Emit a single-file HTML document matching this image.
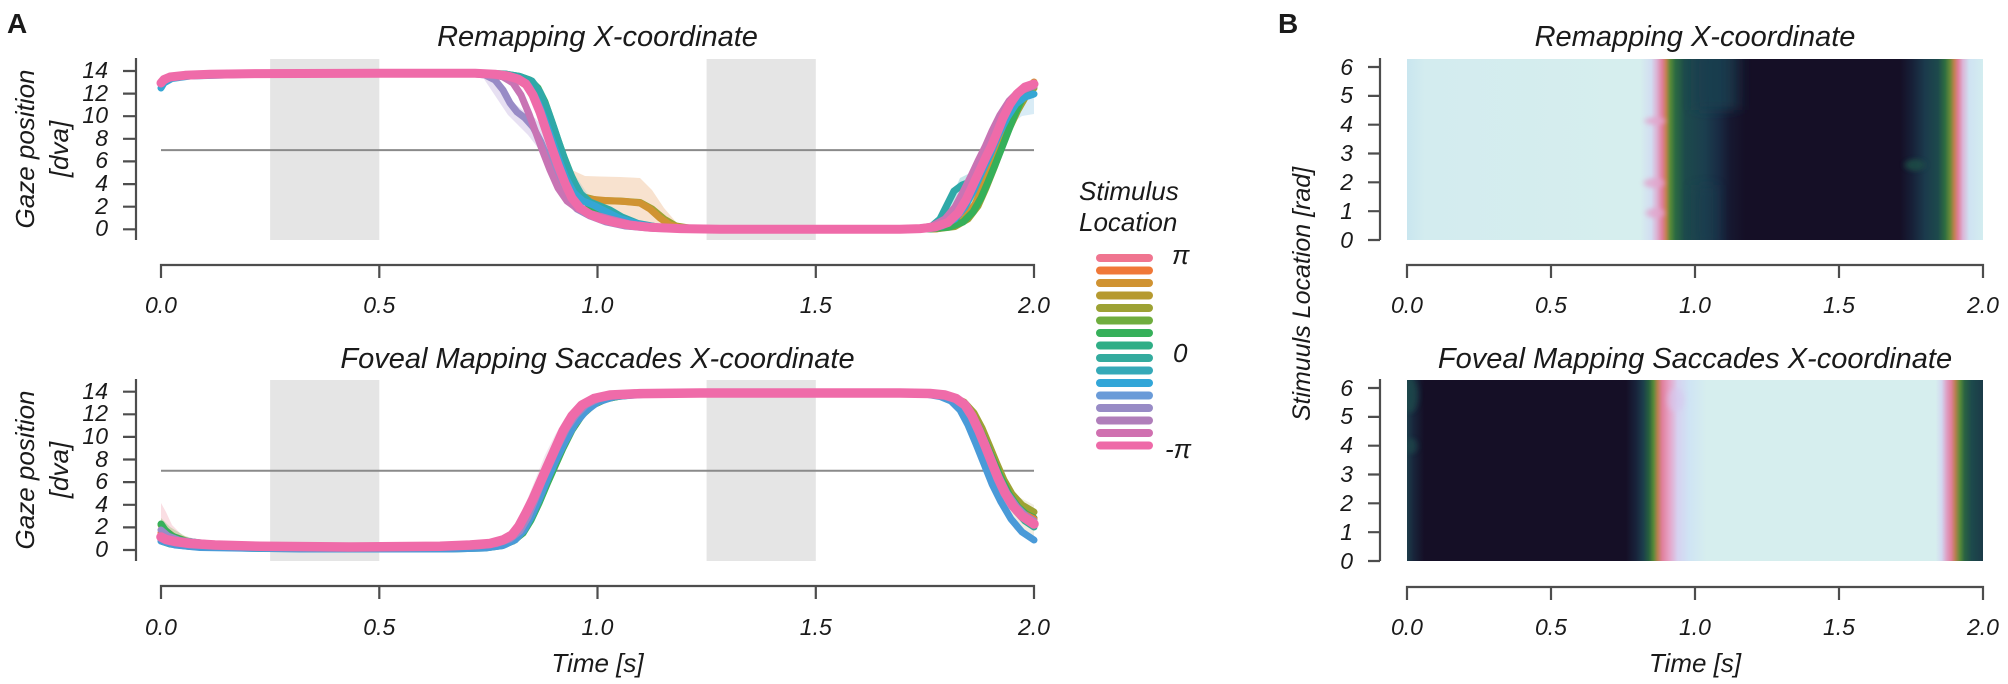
<!DOCTYPE html>
<html>
<head>
<meta charset="utf-8">
<style>
html,body{margin:0;padding:0;background:#fff;}
svg{display:block;}
text{font-family:"Liberation Sans",Arial,sans-serif;fill:#1a1a1a;}
.it{font-style:italic;}
.tk{font-size:23px;font-style:italic;}
.ttl{font-size:29px;font-style:italic;}
.lab{font-size:26px;font-style:italic;}
.ax{stroke:#4d4d4d;stroke-width:2.2;fill:none;}
.ln{fill:none;stroke-linejoin:round;stroke-linecap:round;}
</style>
</head>
<body>
<svg width="2008" height="684" viewBox="0 0 2008 684" xmlns="http://www.w3.org/2000/svg">
<defs>
<linearGradient id="hmTop" gradientUnits="userSpaceOnUse" x1="1407" y1="0" x2="1983" y2="0">
<stop offset="0" stop-color="#c9e6ef"/>
<stop offset="0.031" stop-color="#d3ecef"/>
<stop offset="0.405" stop-color="#d6eeee"/>
<stop offset="0.424" stop-color="#d2ddf1"/>
<stop offset="0.434" stop-color="#dcb0d2"/>
<stop offset="0.443" stop-color="#e07f9b"/>
<stop offset="0.450" stop-color="#c08050"/>
<stop offset="0.457" stop-color="#5a8a38"/>
<stop offset="0.466" stop-color="#2b6a42"/>
<stop offset="0.483" stop-color="#1d4a4c"/>
<stop offset="0.517" stop-color="#1b3e4e"/>
<stop offset="0.540" stop-color="#192c44"/>
<stop offset="0.561" stop-color="#161830"/>
<stop offset="0.587" stop-color="#150f26"/>
<stop offset="0.856" stop-color="#150f26"/>
<stop offset="0.877" stop-color="#172038"/>
<stop offset="0.899" stop-color="#1b3a4c"/>
<stop offset="0.922" stop-color="#1d4a4c"/>
<stop offset="0.934" stop-color="#2e6e40"/>
<stop offset="0.943" stop-color="#6a8a38"/>
<stop offset="0.950" stop-color="#c08050"/>
<stop offset="0.957" stop-color="#e07f9b"/>
<stop offset="0.965" stop-color="#dcb4d6"/>
<stop offset="0.976" stop-color="#cfe2f2"/>
<stop offset="1" stop-color="#d3edf0"/>
</linearGradient>
<linearGradient id="hmBot" gradientUnits="userSpaceOnUse" x1="1407" y1="0" x2="1983" y2="0">
<stop offset="0" stop-color="#1d3d4b"/>
<stop offset="0.012" stop-color="#18243a"/>
<stop offset="0.03" stop-color="#150f26"/>
<stop offset="0.38" stop-color="#150f26"/>
<stop offset="0.397" stop-color="#18223a"/>
<stop offset="0.41" stop-color="#1c3e4c"/>
<stop offset="0.42" stop-color="#27603e"/>
<stop offset="0.428" stop-color="#5a8a38"/>
<stop offset="0.435" stop-color="#b88050"/>
<stop offset="0.443" stop-color="#e07f9b"/>
<stop offset="0.455" stop-color="#e6a2c6"/>
<stop offset="0.47" stop-color="#d6d2f0"/>
<stop offset="0.49" stop-color="#cfe4f4"/>
<stop offset="0.52" stop-color="#d6eeee"/>
<stop offset="0.918" stop-color="#d6eeee"/>
<stop offset="0.928" stop-color="#d2d8f0"/>
<stop offset="0.937" stop-color="#dea0c4"/>
<stop offset="0.945" stop-color="#e07f9b"/>
<stop offset="0.952" stop-color="#b88050"/>
<stop offset="0.96" stop-color="#5a8a38"/>
<stop offset="0.968" stop-color="#2a6442"/>
<stop offset="0.98" stop-color="#1d4a4c"/>
<stop offset="1" stop-color="#1b3a48"/>
</linearGradient>
<linearGradient id="tealExt" gradientUnits="userSpaceOnUse" x1="1690" y1="0" x2="1745" y2="0">
<stop offset="0" stop-color="#1b3e4e" stop-opacity="0"/>
<stop offset="0.25" stop-color="#1b3e4e" stop-opacity="0.9"/>
<stop offset="0.7" stop-color="#1b3e4e" stop-opacity="0.85"/>
<stop offset="1" stop-color="#1b3e4e" stop-opacity="0"/>
</linearGradient>
<filter id="bl" x="-50%" y="-50%" width="200%" height="200%"><feGaussianBlur stdDeviation="6 5"/></filter>
<filter id="bl2" x="-50%" y="-50%" width="200%" height="200%"><feGaussianBlur stdDeviation="3 2"/></filter>
<clipPath id="cTop"><rect x="1407" y="59" width="576" height="181"/></clipPath>
<clipPath id="cBot"><rect x="1407" y="380" width="576" height="181"/></clipPath>
</defs>
<rect width="2008" height="684" fill="#fff"/>

<!-- Panel letters -->
<text x="7" y="33" style="font-size:28px;font-weight:bold;">A</text>
<text x="1278" y="33" style="font-size:28px;font-weight:bold;">B</text>

<!-- ============ PANEL A TOP ============ -->
<text class="ttl" x="597.5" y="46" text-anchor="middle">Remapping X-coordinate</text>
<rect x="270.1" y="59" width="109.2" height="181" fill="#e5e5e5"/>
<rect x="706.6" y="59" width="109.2" height="181" fill="#e5e5e5"/>
<line x1="161" y1="150.1" x2="1034" y2="150.1" stroke="#8a8a8a" stroke-width="2"/>

<!-- bands -->
<path d="M540,105 L550,128 L560,150 L572,170 L585,176 L600,176.5 L620,177 L640,178 L652,190 L664,208 L676,222 L690,228 L720,229.5 L690,229.5 L660,228 L640,222 L615,215 L595,210 L575,200 L560,180 L548,150 L538,120 Z" fill="#e8a060" opacity="0.3"/>
<path d="M480,73 L495,78 L505,92 L515,104 L525,112 L535,118 L545,130 L555,150 L565,175 L575,195 L570,200 L558,185 L548,165 L538,148 L528,135 L518,125 L508,115 L498,100 L488,85 Z" fill="#a890d0" opacity="0.28"/>
<path d="M530,82 L545,100 L556,125 L565,150 L575,175 L585,190 L592,200 L580,205 L568,185 L556,160 L545,130 L535,105 Z" fill="#80c0c8" opacity="0.25"/>
<path d="M935,229 L945,212 L952,196 L960,178 L968,174 L976,166 L984,155 L990,150 L986,170 L978,183 L968,192 L958,200 L948,218 Z" fill="#40b0b8" opacity="0.3"/>
<path d="M1000,120 L1012,100 L1025,88 L1034,86 L1034,114 L1022,116 L1010,125 Z" fill="#80c0e0" opacity="0.3"/>

<!-- lines -->
<path class="ln" stroke="#9da234" stroke-width="7" d="M161,83 L170,77.5 L190,75.3 L260,73.8 L485,73.4 L507,75 L521,80 L531,90 L540,106 L548,128 L556,150 L564,170 L573,187 L584,197 L598,200.5 L620,201 L640,202.5 L652,209 L664,219 L676,226 L695,229 L935,229 L955,226.5 L968,219 L978,206 L986,188 L994,168 L1001,149 L1009,129 L1018,110 L1026,96 L1034,88"/>
<path class="ln" stroke="#d09332" stroke-width="7" d="M161,82 L168,77.5 L185,75.5 L260,73.8 L480,73.4 L500,74.5 L515,78 L527,86 L536,102 L544,122 L552,145 L560,165 L568,182 L577,194 L588,199 L605,200.5 L625,201.5 L640,203 L650,209 L660,218 L670,225 L685,228.5 L710,229.3 L935,229 L952,226 L965,218 L975,204 L983,186 L991,165 L998,146 L1006,126 L1015,106 L1024,91 L1034,82"/>
<path class="ln" stroke="#36b05a" stroke-width="7" d="M161,82 L166,78.5 L178,76 L210,74.5 L260,73.8 L480,73.3 L505,74 L520,76.5 L530,80 L538,88 L545,102 L552,122 L558,140 L564,157 L571,175 L579,192 L588,204 L598,212 L612,219 L628,224 L650,227.5 L690,229 L930,229 L950,227 L963,222 L973,212 L981,198 L988,182 L995,165 L1001,150 L1008,132 L1015,114 L1022,99 L1028,90 L1034,85"/>
<path class="ln" stroke="#2fa9a8" stroke-width="7" d="M161,84 L166,80 L178,76.5 L210,74.6 L260,73.8 L480,73.3 L505,74 L520,76.5 L532,81 L540,92 L547,108 L554,128 L560,146 L566,163 L573,180 L581,194 L590,202 L600,206 L610,210 L622,217 L638,223.5 L660,227.5 L700,229 L915,229 L930,227.5 L940,219 L947,205 L954,191 L962,185 L970,182 L977,174 L984,162 L990,150 L997,134 L1005,116 L1013,101 L1022,91 L1034,86"/>
<path class="ln" stroke="#35a6d4" stroke-width="7" d="M161,88 L164,83 L172,78.5 L190,76 L260,74 L480,73.5 L503,74.5 L518,78 L529,86 L538,102 L545,120 L552,140 L559,160 L566,178 L574,193 L583,201 L593,205 L605,211 L620,218.5 L640,224.5 L665,228 L700,229.2 L925,229 L942,226 L955,219 L965,207 L974,190 L982,172 L990,155 L998,136 L1007,118 L1016,104 L1025,97 L1034,94"/>
<path class="ln" stroke="#988bc6" stroke-width="7" d="M161,83 L170,77.5 L190,75.3 L260,73.8 L470,73.4 L485,75 L495,80 L503,90 L510,103 L517,112 L525,118 L533,127 L541,142 L549,162 L557,182 L566,198 L577,209 L590,216 L606,222 L625,226 L655,228.5 L700,229.3 L920,229 L938,225 L950,216 L960,202 L969,185 L977,168 L984,154 L991,140 L999,123 L1008,106 L1018,93 L1027,87 L1034,85"/>
<path class="ln" stroke="#c874b4" stroke-width="7" d="M161,83 L170,77 L200,74.5 L400,73.3 L470,73.4 L490,74.5 L503,77 L513,83 L521,95 L529,114 L536,133 L543,152 L550,170 L558,188 L567,201 L578,209 L592,214 L610,219 L630,224 L660,227.8 L720,229.2 L915,229 L932,226 L945,219 L955,207 L963,192 L971,176 L978,161 L985,147 L992,131 L1000,115 L1009,101 L1018,92 L1034,86"/>
<path class="ln" stroke="#ef6ba9" stroke-width="9" d="M161,83 L164,79.5 L170,77 L185,75.3 L210,74.3 L260,73.6 L400,73.2 L475,73.3 L495,74.2 L508,76 L518,79 L526,84 L533,95 L540,112 L546,130 L552,148 L558,165 L565,183 L572,198 L580,208 L590,214.5 L600,218.5 L615,222.5 L630,225.2 L650,227.3 L680,228.6 L720,229.2 L900,229.2 L920,228.6 L935,227 L948,222.5 L958,213 L966,200 L973,185 L980,170 L986,157 L991,147 L997,133 L1003,118 L1010,104 L1017,94 L1025,87 L1034,84"/>

<!-- axes A top -->
<path class="ax" d="M136,58 L136,240"/>
<path class="ax" d="M123,229.3 H136 M123,206.7 H136 M123,184.1 H136 M123,161.4 H136 M123,138.8 H136 M123,116.2 H136 M123,93.6 H136 M123,71 H136"/>
<path class="ax" d="M161,278 L161,265 L1034,265 L1034,278 M379.3,265 V278 M597.5,265 V278 M815.8,265 V278"/>
<g class="tk" text-anchor="end">
<text x="108" y="236">0</text><text x="108" y="214">2</text><text x="108" y="191">4</text><text x="108" y="168">6</text>
<text x="108" y="146">8</text><text x="108" y="123">10</text><text x="108" y="101">12</text><text x="108" y="78">14</text>
</g>
<g class="tk" text-anchor="middle">
<text x="161" y="313">0.0</text><text x="379.3" y="313">0.5</text><text x="597.5" y="313">1.0</text><text x="815.8" y="313">1.5</text><text x="1034" y="313">2.0</text>
</g>
<text class="lab" transform="translate(34,149) rotate(-90)" text-anchor="middle">Gaze position</text>
<text class="lab" transform="translate(68,149) rotate(-90)" text-anchor="middle">[dva]</text>

<!-- ============ PANEL A BOTTOM ============ -->
<text class="ttl" x="597.5" y="368" text-anchor="middle">Foveal Mapping Saccades X-coordinate</text>
<rect x="270.1" y="380" width="109.2" height="181" fill="#e5e5e5"/>
<rect x="706.6" y="380" width="109.2" height="181" fill="#e5e5e5"/>
<line x1="161" y1="470.8" x2="1034" y2="470.8" stroke="#8a8a8a" stroke-width="2"/>

<path d="M161,503 L166,512 L172,525 L182,535 L195,541 L195,546 L175,544 L161,542 Z" fill="#f0a0b0" opacity="0.35"/>
<path d="M161,518 L170,527 L185,536 L205,542 L205,546 L180,543 L161,535 Z" fill="#80c060" opacity="0.35"/>
<path d="M500,540 L515,525 L525,505 L535,480 L545,455 L555,435 L565,418 L578,404 L590,398 L600,402 L585,412 L572,428 L562,448 L552,470 L542,495 L530,520 L515,540 Z" fill="#d0a0c0" opacity="0.25"/>
<path d="M955,395 L970,405 L985,430 L1000,465 L1015,495 L1034,505 L1034,540 L1015,530 L1000,505 L985,470 L970,430 L958,405 Z" fill="#c0b080" opacity="0.22"/>

<path class="ln" stroke="#9da234" stroke-width="7" d="M161,525 L166,531 L174,537 L188,541.5 L215,544.8 L265,546.8 L350,548 L450,548 L480,547 L500,545 L513,541 L523,533 L531,520 L539,503 L547,484 L555,466 L563,448 L572,430 L582,415 L593,405 L606,399 L625,395 L660,393.5 L935,393.5 L952,396.5 L964,402 L974,413 L982,428 L990,447 L997,464 L1004,480 L1012,494 L1022,505 L1034,512"/>
<path class="ln" stroke="#36b05a" stroke-width="7" d="M161,524 L165,530 L172,536 L185,541 L210,544.5 L260,546.5 L350,547.8 L450,548 L480,547 L500,545 L513,541 L523,533 L531,520 L539,503 L547,484 L555,466 L563,448 L572,430 L582,415 L593,405 L606,399 L625,395 L660,393.5 L930,393.5 L948,396 L960,401 L970,411 L978,425 L986,443 L994,462 L1001,478 L1009,494 L1018,507 L1026,514 L1034,518"/>
<path class="ln" stroke="#f07838" stroke-width="7" d="M161,533 L170,539 L190,543.5 L260,546.5 L440,547 L480,546 L498,543 L510,537 L519,527 L527,512 L535,494 L543,474 L551,456 L560,437 L569,421 L579,409 L590,401 L605,396 L640,393.5 L935,393.5 L952,397 L963,404 L972,416 L980,432 L988,452 L996,472 L1004,490 L1014,505 L1024,514 L1034,519"/>
<path class="ln" stroke="#2fae96" stroke-width="7" d="M161,541 L170,544 L190,546.5 L260,548.5 L450,549 L485,548 L503,545.5 L515,540 L524,531 L532,517 L540,499 L548,479 L556,461 L565,442 L574,425 L584,412 L595,403 L610,397.5 L640,394 L930,394 L946,396.5 L957,401 L966,409 L974,422 L982,440 L990,460 L998,479 L1006,496 L1016,511 L1025,521 L1034,527"/>
<path class="ln" stroke="#4a9ad8" stroke-width="7" d="M161,541 L175,545 L200,547.5 L300,549 L450,549 L485,548 L503,545.5 L515,540 L524,530 L532,515 L540,497 L548,478 L556,460 L565,442 L575,424 L586,411 L598,402 L615,396.5 L650,394 L925,394 L940,396.5 L951,401 L960,410 L968,425 L976,444 L984,464 L992,484 L1001,502 L1011,519 L1022,532 L1034,540"/>
<path class="ln" stroke="#988bc6" stroke-width="7" d="M161,530 L168,536 L180,540.5 L210,544 L280,546.5 L440,547 L478,546 L497,543.5 L510,539 L520,531 L528,517 L535,500 L542,482 L550,464 L558,446 L567,428 L576,415 L586,405 L598,399 L615,395.5 L650,393.8 L935,393.8 L950,396 L960,401 L969,410 L977,424 L985,442 L992,460 L999,477 L1007,493 L1017,507 L1026,516 L1034,521"/>
<path class="ln" stroke="#ef6ba9" stroke-width="9.5" d="M161,537 L166,539.5 L175,541.5 L190,543.5 L215,545 L260,546.3 L350,547 L440,546.3 L470,545 L490,543.5 L503,540 L512,535 L519,526 L526,513 L533,499 L540,483 L547,467 L555,449 L563,431 L572,416 L582,405 L594,398.5 L610,395 L640,393.6 L700,393 L900,393 L930,393.5 L945,395 L956,398.5 L965,405 L972,416 L979,431 L986,448 L992,463 L998,478 L1005,493 L1013,506 L1022,516 L1034,524"/>

<path class="ax" d="M136,379 L136,561"/>
<path class="ax" d="M123,550 H136 M123,527.4 H136 M123,504.8 H136 M123,482.1 H136 M123,459.5 H136 M123,436.9 H136 M123,414.3 H136 M123,391.7 H136"/>
<path class="ax" d="M161,599 L161,586 L1034,586 L1034,599 M379.3,586 V599 M597.5,586 V599 M815.8,586 V599"/>
<g class="tk" text-anchor="end">
<text x="108" y="557">0</text><text x="108" y="534">2</text><text x="108" y="512">4</text><text x="108" y="489">6</text>
<text x="108" y="467">8</text><text x="108" y="444">10</text><text x="108" y="421">12</text><text x="108" y="399">14</text>
</g>
<g class="tk" text-anchor="middle">
<text x="161" y="635">0.0</text><text x="379.3" y="635">0.5</text><text x="597.5" y="635">1.0</text><text x="815.8" y="635">1.5</text><text x="1034" y="635">2.0</text>
</g>
<text class="lab" transform="translate(34,470) rotate(-90)" text-anchor="middle">Gaze position</text>
<text class="lab" transform="translate(68,470) rotate(-90)" text-anchor="middle">[dva]</text>
<text class="lab" x="597.5" y="672" text-anchor="middle">Time [s]</text>

<!-- Legend -->
<text class="lab" x="1079" y="200">Stimulus</text>
<text class="lab" x="1079" y="231">Location</text>
<g class="ln" stroke-width="8">
<line x1="1100" y1="258" x2="1149" y2="258" stroke="#f07590"/>
<line x1="1100" y1="270.5" x2="1149" y2="270.5" stroke="#f07838"/>
<line x1="1100" y1="283" x2="1149" y2="283" stroke="#d09332"/>
<line x1="1100" y1="295.5" x2="1149" y2="295.5" stroke="#b69a30"/>
<line x1="1100" y1="308" x2="1149" y2="308" stroke="#9da234"/>
<line x1="1100" y1="320.5" x2="1149" y2="320.5" stroke="#6fad3e"/>
<line x1="1100" y1="333" x2="1149" y2="333" stroke="#36b05a"/>
<line x1="1100" y1="345.5" x2="1149" y2="345.5" stroke="#2fae86"/>
<line x1="1100" y1="358" x2="1149" y2="358" stroke="#33ab9e"/>
<line x1="1100" y1="370.5" x2="1149" y2="370.5" stroke="#35a9b8"/>
<line x1="1100" y1="383" x2="1149" y2="383" stroke="#32a6d8"/>
<line x1="1100" y1="395.5" x2="1149" y2="395.5" stroke="#6a9bd8"/>
<line x1="1100" y1="408" x2="1149" y2="408" stroke="#988bc6"/>
<line x1="1100" y1="420.5" x2="1149" y2="420.5" stroke="#b07eba"/>
<line x1="1100" y1="433" x2="1149" y2="433" stroke="#d070b0"/>
<line x1="1100" y1="445.5" x2="1149" y2="445.5" stroke="#ee6aa8"/>
</g>
<text class="lab" x="1172" y="264">π</text>
<text class="lab" x="1173" y="362">0</text>
<text class="lab" x="1165" y="458">-π</text>

<!-- ============ PANEL B ============ -->
<text class="ttl" x="1695" y="46" text-anchor="middle">Remapping X-coordinate</text>
<rect x="1407" y="59" width="576" height="181" fill="url(#hmTop)"/>
<g clip-path="url(#cTop)">
<rect x="1690" y="50" width="55" height="60" fill="url(#tealExt)" filter="url(#bl)"/>
<rect x="1688" y="185" width="28" height="60" fill="url(#tealExt)" filter="url(#bl)" opacity="0.6"/>
<ellipse cx="1655" cy="121" rx="10" ry="4" fill="#e2a6cc" filter="url(#bl2)" opacity="0.8"/>
<ellipse cx="1654" cy="183" rx="10" ry="5" fill="#e2a6cc" filter="url(#bl2)" opacity="0.8"/>
<ellipse cx="1655" cy="213" rx="9" ry="5" fill="#e2a6cc" filter="url(#bl2)" opacity="0.8"/>
<ellipse cx="1915" cy="165" rx="10" ry="6" fill="#1f5046" filter="url(#bl2)" opacity="0.8"/>
</g>
<path class="ax" d="M1380,58 L1380,240"/>
<path class="ax" d="M1368,240 H1380 M1368,211.2 H1380 M1368,182.3 H1380 M1368,153.5 H1380 M1368,124.7 H1380 M1368,95.9 H1380 M1368,67 H1380"/>
<path class="ax" d="M1407,278 L1407,265 L1983,265 L1983,278 M1551,265 V278 M1695,265 V278 M1839,265 V278"/>
<g class="tk" text-anchor="end">
<text x="1353" y="248">0</text><text x="1353" y="219">1</text><text x="1353" y="190">2</text><text x="1353" y="161">3</text>
<text x="1353" y="132">4</text><text x="1353" y="103">5</text><text x="1353" y="75">6</text>
</g>
<g class="tk" text-anchor="middle">
<text x="1407" y="313">0.0</text><text x="1551" y="313">0.5</text><text x="1695" y="313">1.0</text><text x="1839" y="313">1.5</text><text x="1983" y="313">2.0</text>
</g>

<text class="ttl" x="1695" y="368" text-anchor="middle">Foveal Mapping Saccades X-coordinate</text>
<rect x="1407" y="380" width="576" height="181" fill="url(#hmBot)"/>
<g clip-path="url(#cBot)">
<ellipse cx="1410" cy="395" rx="8" ry="18" fill="#1d4a4c" filter="url(#bl2)" opacity="0.8"/>
<ellipse cx="1411" cy="446" rx="6" ry="8" fill="#1d4a4c" filter="url(#bl2)" opacity="0.7"/>
<ellipse cx="1676" cy="400" rx="8" ry="12" fill="#d6c8ee" filter="url(#bl2)" opacity="0.6"/>
</g>
<path class="ax" d="M1380,379 L1380,561"/>
<path class="ax" d="M1368,561 H1380 M1368,532.2 H1380 M1368,503.3 H1380 M1368,474.5 H1380 M1368,445.7 H1380 M1368,416.9 H1380 M1368,388 H1380"/>
<path class="ax" d="M1407,600 L1407,587 L1983,587 L1983,600 M1551,587 V600 M1695,587 V600 M1839,587 V600"/>
<g class="tk" text-anchor="end">
<text x="1353" y="569">0</text><text x="1353" y="540">1</text><text x="1353" y="511">2</text><text x="1353" y="482">3</text>
<text x="1353" y="453">4</text><text x="1353" y="424">5</text><text x="1353" y="396">6</text>
</g>
<g class="tk" text-anchor="middle">
<text x="1407" y="635">0.0</text><text x="1551" y="635">0.5</text><text x="1695" y="635">1.0</text><text x="1839" y="635">1.5</text><text x="1983" y="635">2.0</text>
</g>
<text class="lab" x="1695" y="672" text-anchor="middle">Time [s]</text>
<text class="lab" transform="translate(1310,294) rotate(-90)" text-anchor="middle" style="font-size:25px;">Stimuuls Location [rad]</text>
</svg>
</body>
</html>
